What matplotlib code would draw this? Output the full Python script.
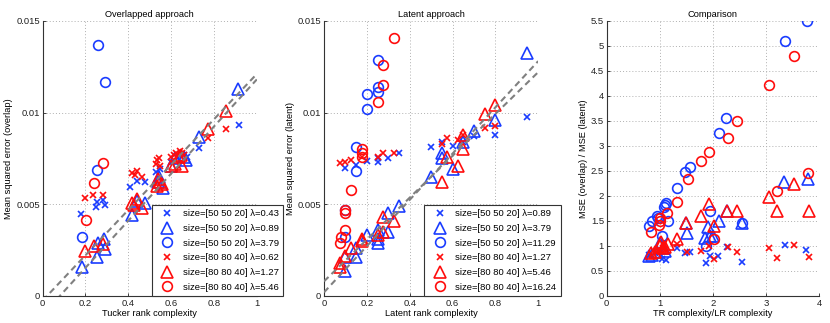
import matplotlib
matplotlib.use("Agg")
import matplotlib.pyplot as plt
import numpy as np

plt.rcParams['font.family'] = ['Liberation Sans', 'DejaVu Sans']

BLUE = '#1a3cff'
RED = '#ff0d0d'

# ---------------- Panel 1: Overlapped approach ----------------
ov_bx_x = [0.18, 0.25, 0.253, 0.283, 0.29, 0.41, 0.44, 0.48, 0.53, 0.55, 0.60, 0.63, 0.66, 0.675, 0.73, 0.915]
ov_bx_y = [0.00448, 0.00485, 0.00515, 0.00525, 0.00497, 0.00595, 0.00625, 0.00622, 0.00678, 0.0069, 0.0073, 0.0075, 0.0077, 0.0076, 0.00805, 0.0093]
ov_bt_x = [0.186, 0.255, 0.26, 0.285, 0.29, 0.415, 0.44, 0.48, 0.54, 0.545, 0.56, 0.60, 0.62, 0.66, 0.67, 0.73, 0.91]
ov_bt_y = [0.00158, 0.00215, 0.0029, 0.0031, 0.00255, 0.00442, 0.0052, 0.00505, 0.0062, 0.0065, 0.0059, 0.0071, 0.0075, 0.0076, 0.0074, 0.00865, 0.0113]
ov_bo_x = [0.184, 0.252, 0.257, 0.293]
ov_bo_y = [0.0032, 0.00686, 0.01367, 0.01167]
ov_rx_x = [0.20, 0.237, 0.283, 0.418, 0.43, 0.44, 0.465, 0.53, 0.535, 0.545, 0.55, 0.60, 0.615, 0.625, 0.64, 0.65, 0.66, 0.77, 0.857]
ov_rx_y = [0.00532, 0.00548, 0.00552, 0.00668, 0.0066, 0.00683, 0.0065, 0.0072, 0.0074, 0.0075, 0.0071, 0.0076, 0.0077, 0.0078, 0.0079, 0.0078, 0.0077, 0.0086, 0.0091]
ov_rt_x = [0.20, 0.238, 0.28, 0.415, 0.425, 0.44, 0.465, 0.535, 0.54, 0.55, 0.555, 0.60, 0.62, 0.635, 0.645, 0.65, 0.77, 0.855]
ov_rt_y = [0.00243, 0.00275, 0.00285, 0.00505, 0.00495, 0.0053, 0.0048, 0.006, 0.0064, 0.0062, 0.0061, 0.0071, 0.0072, 0.0076, 0.0077, 0.0071, 0.0091, 0.0101]
ov_ro_x = [0.202, 0.238, 0.282]
ov_ro_y = [0.00414, 0.00614, 0.00726]
ov_labels = ['size=[50 50 20] λ=0.43', 'size=[50 50 20] λ=0.89', 'size=[50 50 20] λ=3.79',
             'size=[80 80 40] λ=0.62', 'size=[80 80 40] λ=1.27', 'size=[80 80 40] λ=5.46']
ov_fit_slope = [0.01235, 0.01283]
ov_fit_icpt = [-0.000247, -0.001026]

# ---------------- Panel 2: Latent approach ----------------
la_bx_x = [0.10, 0.15, 0.20, 0.25, 0.25, 0.30, 0.35, 0.50, 0.55, 0.60, 0.65, 0.70, 0.80, 0.95]
la_bx_y = [0.00695, 0.00716, 0.00734, 0.0073, 0.0075, 0.0075, 0.0078, 0.00813, 0.0084, 0.0082, 0.0084, 0.0087, 0.0088, 0.00973]
la_bt_x = [0.10, 0.10, 0.15, 0.15, 0.20, 0.25, 0.25, 0.25, 0.30, 0.30, 0.35, 0.50, 0.55, 0.55, 0.60, 0.65, 0.70, 0.80, 0.95]
la_bt_y = [0.00137, 0.0021, 0.0021, 0.00262, 0.0033, 0.0029, 0.0031, 0.0036, 0.0035, 0.0045, 0.0049, 0.0065, 0.0075, 0.0078, 0.0069, 0.0084, 0.009, 0.0096, 0.01327]
la_bo_x = [0.10, 0.10, 0.15, 0.15, 0.20, 0.20, 0.25, 0.25, 0.25]
la_bo_y = [0.0032, 0.0047, 0.0068, 0.0081, 0.0102, 0.011, 0.0111, 0.0114, 0.01285]
la_rx_x = [0.075, 0.10, 0.125, 0.175, 0.25, 0.275, 0.325, 0.55, 0.575, 0.625, 0.65, 0.75, 0.80]
la_rx_y = [0.00723, 0.0073, 0.0074, 0.0076, 0.0076, 0.0078, 0.0078, 0.0083, 0.00859, 0.0085, 0.0088, 0.00913, 0.00925]
la_rt_x = [0.075, 0.075, 0.10, 0.125, 0.175, 0.175, 0.25, 0.275, 0.275, 0.325, 0.55, 0.575, 0.625, 0.65, 0.65, 0.75, 0.80]
la_rt_y = [0.0016, 0.0018, 0.0022, 0.0026, 0.003, 0.0031, 0.0033, 0.0035, 0.0043, 0.0041, 0.0062, 0.0076, 0.0071, 0.0080, 0.0088, 0.0099, 0.0104]
la_ro_x = [0.075, 0.078, 0.10, 0.10, 0.10, 0.125, 0.175, 0.175, 0.175, 0.25, 0.275, 0.275, 0.325]
la_ro_y = [0.0029, 0.0032, 0.0036, 0.00455, 0.0047, 0.00577, 0.0076, 0.0078, 0.0080, 0.01055, 0.0115, 0.01258, 0.01408]
la_labels = ['size=[50 50 20] λ=0.89', 'size=[50 50 20] λ=3.79', 'size=[50 50 20] λ=11.29',
             'size=[80 80 40] λ=1.27', 'size=[80 80 40] λ=5.46', 'size=[80 80 40] λ=16.24']
la_fit_slope = [0.0126, 0.0114]
la_fit_icpt = [0.0002, 0.0008]

# ---------------- Panel 3: Comparison ----------------
cm_bx_x = [0.8, 0.9, 1.0, 1.04, 1.12, 1.33, 1.48, 1.57, 1.86, 1.94, 2.1, 2.26, 2.54, 3.35, 3.76]
cm_bx_y = [0.82, 0.85, 0.88, 0.73, 0.72, 0.96, 0.86, 0.87, 0.65, 0.80, 0.80, 0.98, 0.68, 1.01, 0.92]
cm_bt_x = [0.8, 0.85, 0.95, 1.0, 1.05, 1.1, 1.5, 1.52, 1.85, 1.9, 1.94, 2.0, 2.11, 2.26, 2.54, 3.34, 3.785]
cm_bt_y = [0.8, 0.82, 0.88, 1.05, 0.95, 0.9, 1.45, 1.25, 1.15, 1.38, 1.2, 1.2, 1.49, 1.69, 1.45, 2.28, 2.33]
cm_bo_x = [0.79, 0.846, 0.95, 0.97, 1.035, 1.07, 1.09, 1.116, 1.16, 1.329, 1.473, 1.567, 1.86, 1.944, 2.107, 2.245, 2.54, 3.349, 3.763]
cm_bo_y = [1.39, 1.49, 1.59, 1.56, 1.2, 1.78, 1.81, 1.86, 1.49, 2.16, 2.47, 2.57, 0.99, 1.69, 3.25, 3.55, 1.45, 5.10, 5.49]
cm_rx_x = [0.85, 0.95, 1.0, 1.05, 1.1, 1.32, 1.52, 1.78, 1.93, 2.02, 2.28, 2.46, 3.06, 3.2, 3.52, 3.8]
cm_rx_y = [0.82, 0.88, 0.9, 0.95, 0.92, 1.03, 0.87, 0.90, 0.99, 0.74, 0.98, 0.87, 0.95, 0.76, 1.01, 0.77]
cm_rt_x = [0.83, 0.9, 1.0, 1.02, 1.05, 1.1, 1.15, 1.32, 1.5, 1.775, 1.93, 2.02, 2.26, 2.46, 3.06, 3.2, 3.53, 3.8]
cm_rt_y = [0.85, 0.88, 1.0, 1.08, 0.95, 0.98, 1.04, 1.14, 1.45, 1.60, 1.83, 1.39, 1.69, 1.69, 1.98, 1.69, 2.24, 1.69]
cm_ro_x = [0.834, 0.98, 1.003, 1.0, 1.14, 1.323, 1.524, 1.775, 1.93, 2.019, 2.277, 2.46, 3.06, 3.21, 3.524, 3.78]
cm_ro_y = [1.28, 1.42, 1.56, 1.5, 1.65, 1.88, 2.34, 2.69, 2.88, 1.14, 3.15, 3.50, 4.21, 2.09, 4.79, 2.46]

TICK_FS = 6.8
LABEL_FS = 6.7
LEG_FS = 6.8

fig = plt.figure(figsize=(8.3, 3.23), dpi=100)
W = 0.258
axs = [fig.add_axes([0.0514, 0.0836, W, 0.852]),
       fig.add_axes([0.3904, 0.0836, W, 0.852]),
       fig.add_axes([0.731, 0.0836, 0.256, 0.852])]

styles = [('x', BLUE, 5.0), ('^', BLUE, 8.0), ('o', BLUE, 7.0),
          ('x', RED, 5.0), ('^', RED, 8.0), ('o', RED, 7.0)]


def draw_series(ax, xs, ys, labels):
    handles = []
    for (m, c, ms), x, y, lab in zip(styles, xs, ys, labels):
        h, = ax.plot(x, y, linestyle='none', marker=m, ms=ms, mfc='none', mec=c,
                     mew=1.2, label=lab)
        handles.append(h)
    return handles


def style_axes(ax):
    for s in ['top', 'right']:
        ax.spines[s].set_visible(False)
    for s in ['left', 'bottom']:
        ax.spines[s].set_color('#333333')
        ax.spines[s].set_linewidth(0.8)
    ax.tick_params(direction='in', length=2.5, width=0.6, labelsize=TICK_FS, colors='#222222', pad=2)
    ax.grid(True, linestyle=(0, (1, 2.2)), color='#b0b0b0', linewidth=0.7)
    ax.set_axisbelow(True)


def add_legend(ax, handles, x0):
    leg = ax.legend(handles=handles, loc='lower left', bbox_to_anchor=(x0, 0.0),
                    borderaxespad=0.0, fontsize=LEG_FS, frameon=True, fancybox=False,
                    edgecolor='#333333', framealpha=1.0, labelspacing=0.6,
                    handlelength=2.4, handletextpad=0.45, borderpad=0.45)
    leg.get_frame().set_linewidth(0.8)
    return leg


# Panel 1
ax = axs[0]
style_axes(ax)
h = draw_series(ax, [ov_bx_x, ov_bt_x, ov_bo_x, ov_rx_x, ov_rt_x, ov_ro_x],
                [ov_bx_y, ov_bt_y, ov_bo_y, ov_rx_y, ov_rt_y, ov_ro_y], ov_labels)
xx = np.array([0.0, 1.0])
for s, b in zip(ov_fit_slope, ov_fit_icpt):
    ax.plot(xx, s * xx + b, linestyle=(0, (3, 2)), color='#808080', linewidth=1.5, zorder=3)
ax.set_xlim(0, 1)
ax.set_ylim(0, 0.015)
ax.set_xticks([0, 0.2, 0.4, 0.6, 0.8, 1])
ax.set_xticklabels(['0', '0.2', '0.4', '0.6', '0.8', '1'])
ax.set_yticks([0, 0.005, 0.01, 0.015])
ax.set_yticklabels(['0', '0.005', '0.01', '0.015'])
ax.set_xlabel('Tucker rank complexity', fontsize=LABEL_FS, labelpad=1)
ax.set_ylabel('Mean squared error (overlap)', fontsize=LABEL_FS, labelpad=2)
ax.set_title('Overlapped approach', fontsize=LABEL_FS, pad=3)
add_legend(ax, h, 0.509)

# Panel 2
ax = axs[1]
style_axes(ax)
h = draw_series(ax, [la_bx_x, la_bt_x, la_bo_x, la_rx_x, la_rt_x, la_ro_x],
                [la_bx_y, la_bt_y, la_bo_y, la_rx_y, la_rt_y, la_ro_y], la_labels)
for s, b in zip(la_fit_slope, la_fit_icpt):
    ax.plot(xx, s * xx + b, linestyle=(0, (3, 2)), color='#808080', linewidth=1.5, zorder=3)
ax.set_xlim(0, 1)
ax.set_ylim(0, 0.015)
ax.set_xticks([0, 0.2, 0.4, 0.6, 0.8, 1])
ax.set_xticklabels(['0', '0.2', '0.4', '0.6', '0.8', '1'])
ax.set_yticks([0, 0.005, 0.01, 0.015])
ax.set_yticklabels(['0', '0.005', '0.01', '0.015'])
ax.set_xlabel('Latent rank complexity', fontsize=LABEL_FS, labelpad=1)
ax.set_ylabel('Mean squared error (latent)', fontsize=LABEL_FS, labelpad=2)
ax.set_title('Latent approach', fontsize=LABEL_FS, pad=3)
add_legend(ax, h, 0.467)

# Panel 3
ax = axs[2]
style_axes(ax)
draw_series(ax, [cm_bx_x, cm_bt_x, cm_bo_x, cm_rx_x, cm_rt_x, cm_ro_x],
            [cm_bx_y, cm_bt_y, cm_bo_y, cm_rx_y, cm_rt_y, cm_ro_y], ['a'] * 6)
ax.set_xlim(0, 4)
ax.set_ylim(0, 5.5)
ax.set_xticks([0, 1, 2, 3, 4])
ax.set_yticks(np.arange(0, 5.51, 0.5))
ax.set_yticklabels(['0', '0.5', '1', '1.5', '2', '2.5', '3', '3.5', '4', '4.5', '5', '5.5'])
ax.set_xlabel('TR complexity/LR complexity', fontsize=LABEL_FS, labelpad=1)
ax.set_ylabel('MSE (overlap) / MSE (latent)', fontsize=LABEL_FS, labelpad=2)
ax.set_title('Comparison', fontsize=LABEL_FS, pad=3)

fig.savefig('out.png', dpi=100)
